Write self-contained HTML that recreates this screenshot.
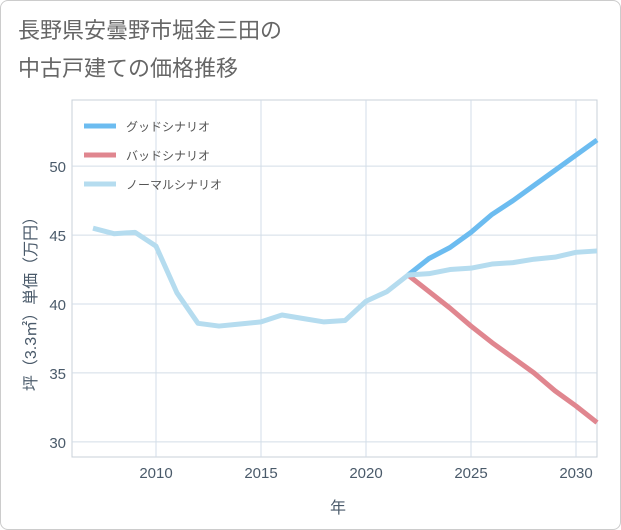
<!DOCTYPE html>
<html><head><meta charset="utf-8"><style>
body{margin:0;background:#fff;}
.card{position:absolute;left:0;top:0;width:619px;height:528px;border:1px solid #ccc;border-radius:8px;background:#fff;}
text{font-family:"Liberation Sans","Noto Sans CJK JP",sans-serif;}
</style></head><body>
<div class="card"></div>
<svg id="c" width="621" height="530" style="position:absolute;left:0;top:0">
<text x="18" y="38" font-size="22" fill="#666">長野県安曇野市堀金三田の</text>
<text x="18" y="76" font-size="22" fill="#666">中古戸建ての価格推移</text>
<rect x="72" y="100" width="525" height="357" fill="#fff" stroke="#c8d0d8"/>
<g id="grid"></g><g id="series"></g><g id="axes"></g>
<text x="338" y="513" font-size="16" fill="#4a5a6a" text-anchor="middle">年</text>
<text transform="translate(36,300) rotate(-90)" font-size="16" fill="#4a5a6a" text-anchor="middle">坪（3.3㎡）単価（万円）</text>
<g>
<line x1="84" y1="126" x2="116" y2="126" stroke="#6cbcf0" stroke-width="5"/>
<text x="126" y="131" font-size="12" fill="#555">グッドシナリオ</text>
<line x1="84" y1="155" x2="116" y2="155" stroke="#e0868f" stroke-width="5"/>
<text x="126" y="160" font-size="12" fill="#555">バッドシナリオ</text>
<line x1="84" y1="184" x2="116" y2="184" stroke="#b5dcef" stroke-width="5"/>
<text x="126" y="189" font-size="12" fill="#555">ノーマルシナリオ</text>
</g>
</svg>
<script>
const normalYears=[2007,2008,2009,2010,2011,2012,2013,2014,2015,2016,2017,2018,2019,2020,2021,2022,2023,2024,2025,2026,2027,2028,2029,2030,2031];
const normalValues=[45.5,45.1,45.2,44.2,40.8,38.6,38.4,38.55,38.7,39.2,38.95,38.7,38.8,40.2,40.9,42.1,42.2,42.5,42.6,42.9,43.0,43.25,43.4,43.75,43.85];
const scenarioYears=[2022,2023,2024,2025,2026,2027,2028,2029,2030,2031];
const goodValues=[42.1,43.3,44.1,45.2,46.5,47.5,48.6,49.7,50.8,51.9];
const badValues=[42.1,40.9,39.7,38.4,37.2,36.1,35.0,33.7,32.6,31.4];
const xTicks=[2010,2015,2020,2025,2030];
const yTicks=[30,35,40,45,50];
const X0=72,X1=597,Y0=457,Y1=100,xmin=2006,xmax=2031,ymin=28.9,ymax=54.8;
const xs=v=>X0+(v-xmin)/(xmax-xmin)*(X1-X0);
const ys=v=>Y0-(v-ymin)/(ymax-ymin)*(Y0-Y1);
const NS="http://www.w3.org/2000/svg";
function mk(tag,attrs,parent){const e=document.createElementNS(NS,tag);for(const k in attrs)e.setAttribute(k,attrs[k]);document.getElementById(parent).appendChild(e);return e;}
xTicks.forEach(t=>{
 const l=mk('line',{x1:xs(t),x2:xs(t),y1:Y1,y2:Y0,stroke:'#d3dde8'},'grid');
 
 
 const tx=mk('text',{x:xs(t),y:Y0+21,'font-size':15,fill:'#4a5a6a','text-anchor':'middle'},'axes');
 tx.textContent=t;
 
 
});
yTicks.forEach(t=>{
 const l=mk('line',{x1:X0,x2:X1,y1:ys(t),y2:ys(t),stroke:'#d3dde8'},'grid');
 
 
 const tx=mk('text',{x:X0-6,y:ys(t)+6,'font-size':15,fill:'#4a5a6a','text-anchor':'end'},'axes');
 tx.textContent=t;
 
 
});
function line(years,vals,color,name){
 const p=mk('polyline',{points:years.map((y,i)=>xs(y)+','+ys(vals[i])).join(' '),fill:'none',stroke:color,'stroke-width':5,'stroke-linejoin':'round'},'series');
 
 
}
line(scenarioYears,goodValues,'#6cbcf0','good-scenario-line');
line(scenarioYears,badValues,'#e0868f','bad-scenario-line');
line(normalYears,normalValues,'#b5dcef','normal-scenario-line');
</script>
</body></html>
